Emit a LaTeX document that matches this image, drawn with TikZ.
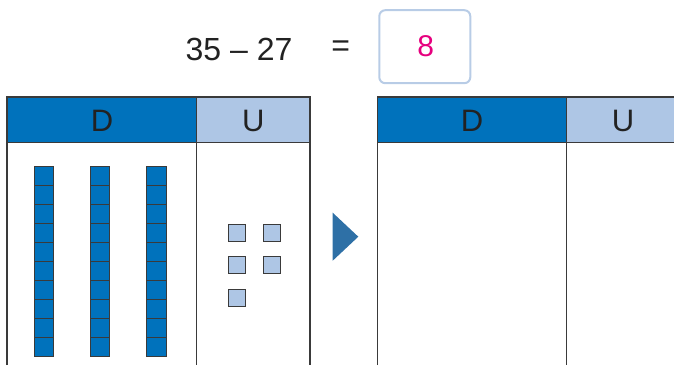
\documentclass[tikz,border=0pt]{standalone}
\usepackage{fontspec}
\setmainfont{Liberation Sans}
\definecolor{dblue}{HTML}{0072BC}
\definecolor{lblue}{HTML}{AEC6E5}
\definecolor{boxline}{HTML}{B8CCE6}
\definecolor{arrowblue}{HTML}{2E70A6}
\definecolor{pinkc}{HTML}{E6007E}
\definecolor{linec}{HTML}{3A3A3A}
\definecolor{textc}{HTML}{222222}
\begin{document}
\begin{tikzpicture}[x=1pt,y=-1pt,
  tline/.style={draw=linec,line width=1.2pt},
  hdtext/.style={anchor=base,text=textc,font=\fontsize{31}{36}\selectfont,inner sep=0pt},
  eqtext/.style={anchor=base,text=textc,font=\fontsize{32}{38}\selectfont,inner sep=0pt},
  tencell/.style={fill=dblue,draw=linec,line width=0.9pt},
  unitsq/.style={fill=lblue,draw=linec,line width=0.9pt}]
\useasboundingbox (0,0) rectangle (674,365);
% equation
\node[eqtext] (lhs) at (239,60) {35 – 27};
\node[eqtext] (eq) at (340.7,56.6) {=};
\node[draw=boxline,line width=2pt,rounded corners=6pt,minimum width=91pt,minimum height=73pt,inner sep=0pt] (box) at (424.8,46.7) {};
\node[anchor=base,text=pinkc,font=\fontsize{30}{36}\selectfont,inner sep=0pt] (res) at (425.7,56.7) {8};
% left table
\fill[dblue] (7,97) rectangle (196.7,142.3);
\fill[lblue] (196.7,97) rectangle (310,142.3);
\draw[tline] (7,365) -- (7,97) -- (310,97) -- (310,365);
\draw[tline] (7,142.3) -- (310,142.3);
\draw[tline] (196.7,97) -- (196.7,365);
\node[hdtext] (ld) at (102,131.7) {D};
\node[hdtext] (lu) at (253.3,131.7) {U};
% tens rods
\foreach \x in {34,90.3,146.7}{
  \foreach \i in {0,...,9}{
    \draw[tencell] (\x,166.7+18.93*\i) rectangle (\x+19.6,166.7+18.93*\i+18.93);
  }
}
% units
\foreach \x/\y in {228.7/224.3,263.5/224.3,228.7/256,263.5/256,228.7/289.5}{
  \draw[unitsq] (\x,\y) rectangle (\x+17,\y+17);
}
% arrow
\fill[arrowblue] (332.7,212.7) -- (358.3,236.7) -- (332.7,260.7) -- cycle;
% right table
\fill[dblue] (377.3,97) rectangle (566.7,142.3);
\fill[lblue] (566.7,97) rectangle (674,142.3);
\draw[tline] (377.3,365) -- (377.3,97) -- (674,97);
\draw[tline] (377.3,142.3) -- (674,142.3);
\draw[tline] (566.7,97) -- (566.7,365);
\node[hdtext] (rd) at (472,131.7) {D};
\node[hdtext] (ru) at (623,131.7) {U};
\end{tikzpicture}
\end{document}
